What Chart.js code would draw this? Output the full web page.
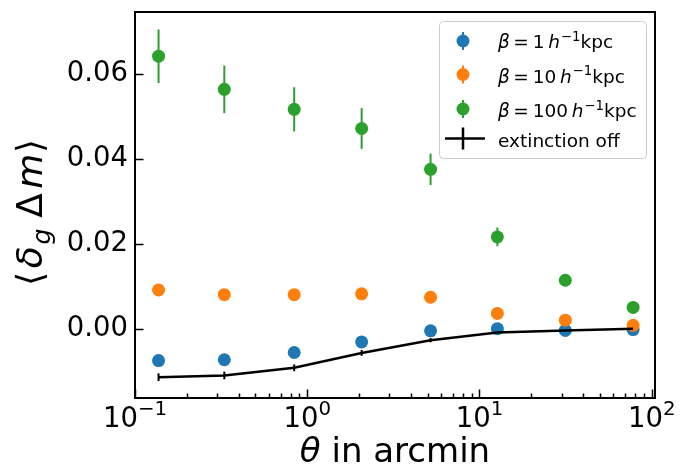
<!DOCTYPE html>
<html>
<head>
  <meta charset="UTF-8">
  <title>Delta m cross-correlation vs theta</title>
  <script src="https://cdn.jsdelivr.net/npm/chart.js"></script>
  <style>
    html, body { margin: 0; padding: 0; background: #fff; }
  </style>
</head>
<body>
  <canvas id="chart" width="680" height="468"></canvas>

  <script>
    // values
    const theta = [0.137, 0.33, 0.84, 2.07, 5.2, 12.7, 31.5, 78];

    const beta1 = [-0.0075, -0.0073, -0.0056, -0.0031, -0.0005, 0.0000, -0.0004, -0.0002];
    const beta1Err = [0.0007, 0.0007, 0.0006, 0.0006, 0.0005, 0.0005, 0.0004, 0.0004];

    const beta10 = [0.0091, 0.0080, 0.0080, 0.0082, 0.0074, 0.0036, 0.0020, 0.0008];
    const beta10Err = [0.0008, 0.0008, 0.0007, 0.0007, 0.0006, 0.0006, 0.0005, 0.0005];

    const beta100 = [0.0641, 0.0563, 0.0516, 0.0471, 0.0375, 0.0216, 0.0114, 0.0050];
    const beta100Err = [0.0063, 0.0056, 0.0052, 0.0048, 0.0037, 0.0022, 0.0011, 0.0009];

    const extOff = [-0.0114, -0.0110, -0.0092, -0.0057, -0.0027, -0.0009, -0.0004, 0.0000];
    const extOffErr = [0.0009, 0.0009, 0.0008, 0.0007, 0.0005, 0.0004, 0.0003, 0.0003];

    const betaValues = ['1', '10', '100'];
    const xTicks = [0.1, 1, 10, 100];
    const xTickExp = ['\u22121', '0', '1', '2'];
    const xMinor = [0.2, 0.3, 0.4, 0.5, 0.6, 0.7, 0.8, 0.9, 2, 3, 4, 5, 6, 7, 8, 9, 20, 30, 40, 50, 60, 70, 80, 90];
    const yTicks = [0, 0.02, 0.04, 0.06];

    const BLUE = '#1f77b4', ORANGE = '#ff7f0e', GREEN = '#2ca02c';
    const FONT = '"DejaVu Sans"';

    const pts = ys => theta.map((t, i) => ({ x: t, y: ys[i] }));

    // draw a run of text pieces: [text, italic, scale, dy(em), gapAfter(em)]
    function runWidth(ctx, runs, size) {
      let w = 0;
      for (const [t, it, sc = 1, dy = 0, gap = 0] of runs) {
        ctx.font = (it ? 'italic ' : '') + (size * sc) + 'px ' + FONT;
        w += ctx.measureText(t).width + gap * size;
      }
      return w;
    }
    function drawRuns(ctx, runs, x, y, size) {
      ctx.textBaseline = 'alphabetic';
      ctx.textAlign = 'left';
      for (const [t, it, sc = 1, dy = 0, gap = 0] of runs) {
        ctx.font = (it ? 'italic ' : '') + (size * sc) + 'px ' + FONT;
        ctx.fillText(t, x, y + dy * size);
        x += ctx.measureText(t).width + gap * size;
      }
    }

    const mplPlugin = {
      id: 'mpl',
      beforeDatasetsDraw(chart) {
        const ctx = chart.ctx, xs = chart.scales.x, ys = chart.scales.y;
        const sets = [[beta1, beta1Err, BLUE], [beta10, beta10Err, ORANGE],
                      [beta100, beta100Err, GREEN], [extOff, extOffErr, '#000']];
        ctx.save();
        for (const [vals, errs, col] of sets) {
          ctx.strokeStyle = col;
          ctx.lineWidth = 2;
          theta.forEach((t, i) => {
            const px = xs.getPixelForValue(t);
            ctx.beginPath();
            ctx.moveTo(px, ys.getPixelForValue(vals[i] + errs[i]));
            ctx.lineTo(px, ys.getPixelForValue(vals[i] - errs[i]));
            ctx.stroke();
          });
        }
        ctx.restore();
      },
      afterDraw(chart) {
        const ctx = chart.ctx, a = chart.chartArea;
        const xs = chart.scales.x, ys = chart.scales.y;
        ctx.save();
        ctx.fillStyle = '#000';
        ctx.strokeStyle = '#000';

        // inward ticks
        ctx.lineWidth = 1.5;
        ctx.beginPath();
        for (const v of xTicks) {
          const px = Math.round(xs.getPixelForValue(v)) + 0.5;
          ctx.moveTo(px, a.bottom); ctx.lineTo(px, a.bottom - 8.5);
        }
        for (const v of xMinor) {
          const px = Math.round(xs.getPixelForValue(v)) + 0.5;
          ctx.moveTo(px, a.bottom); ctx.lineTo(px, a.bottom - 4.5);
        }
        for (const v of yTicks) {
          const py = Math.round(ys.getPixelForValue(v)) + 0.5;
          ctx.moveTo(a.left, py); ctx.lineTo(a.left + 8.5, py);
        }
        ctx.stroke();

        // frame
        ctx.lineWidth = 2;
        ctx.strokeRect(a.left, a.top, a.right - a.left, a.bottom - a.top);

        // x tick labels 10^n
        const ts = 27.5;
        xTicks.forEach((v, i) => {
          const runs = [['10', false], [xTickExp[i], false, 0.72, -0.42]];
          const w = runWidth(ctx, runs, ts);
          drawRuns(ctx, runs, xs.getPixelForValue(v) - w / 2, 427, ts);
        });

        // axis titles
        const ls = 34;
        const xr = [['\u03b8', true, 1, 0, 0], [' in arcmin', false]];
        drawRuns(ctx, xr, (a.left + a.right) / 2 - runWidth(ctx, xr, ls) / 2, 462, ls);

        const ys2 = 36;
        const yr = [['\u27e8', false, 1, 0, 0.1], ['\u03b4', true, 1, 0, 0.05], ['g', true, 0.7, 0.22, 0.3],
                    ['\u0394', false, 1, 0, 0.12], ['m', true, 1, 0, 0.02], ['\u27e9', false]];
        ctx.save();
        ctx.translate(42, 212.5);
        ctx.rotate(-Math.PI / 2);
        drawRuns(ctx, yr, -runWidth(ctx, yr, ys2) / 2, 0, ys2);
        ctx.restore();

        // legend
        ctx.beginPath();
        ctx.roundRect(439.5, 21.5, 207, 137, 4);
        ctx.fillStyle = 'rgba(255,255,255,0.8)';
        ctx.fill();
        ctx.strokeStyle = '#cccccc';
        ctx.lineWidth = 1;
        ctx.stroke();

        const cols = [BLUE, ORANGE, GREEN];
        const my = [41, 74.5, 109];
        const by = [48, 82.5, 117];
        const fs = 18.5;
        cols.forEach((c, i) => {
          ctx.strokeStyle = c; ctx.fillStyle = c; ctx.lineWidth = 2;
          ctx.beginPath(); ctx.moveTo(463, my[i] - 9); ctx.lineTo(463, my[i] + 9); ctx.stroke();
          ctx.beginPath(); ctx.arc(463, my[i], 6.5, 0, Math.PI * 2); ctx.fill();
          ctx.fillStyle = '#000';
          drawRuns(ctx, [['\u03b2', true, 1, 0, 0.18], ['=', false, 1, 0, 0.22], [betaValues[i], false, 1, 0, 0.2],
                         ['h', true, 1, 0, 0.05], ['\u22121', false, 0.72, -0.38], ['kpc', false]], 498, by[i], fs);
        });
        ctx.strokeStyle = '#000'; ctx.lineWidth = 2.5;
        ctx.beginPath();
        ctx.moveTo(445, 138.5); ctx.lineTo(485, 138.5);
        ctx.moveTo(463, 127.5); ctx.lineTo(463, 149.5);
        ctx.stroke();
        ctx.fillStyle = '#000';
        drawRuns(ctx, [['extinction off', false]], 498, 146.5, fs);

        ctx.restore();
      }
    };

    const ctx = document.getElementById('chart').getContext('2d');
    new Chart(ctx, {
      type: 'scatter',
      data: {
        datasets: [
          { label: 'beta 1', data: pts(beta1), backgroundColor: BLUE, borderColor: BLUE,
            pointRadius: 6.5, pointBorderWidth: 0, order: 4 },
          { label: 'beta 10', data: pts(beta10), backgroundColor: ORANGE, borderColor: ORANGE,
            pointRadius: 6.5, pointBorderWidth: 0, order: 3 },
          { label: 'beta 100', data: pts(beta100), backgroundColor: GREEN, borderColor: GREEN,
            pointRadius: 6.5, pointBorderWidth: 0, order: 2 },
          { label: 'extinction off', type: 'line', data: pts(extOff), borderColor: '#000',
            borderWidth: 2.5, pointRadius: 0, tension: 0, fill: false, order: 1 }
        ]
      },
      options: {
        responsive: false,
        animation: false,
        devicePixelRatio: 1,
        layout: { padding: { top: 12, right: 25, left: 0, bottom: 0 } },
        plugins: { legend: { display: false }, tooltip: { enabled: false } },
        scales: {
          x: {
            type: 'logarithmic', min: 0.1, max: 104.5,
            grid: { display: false, drawTicks: false },
            border: { display: false },
            ticks: { display: false },
            afterBuildTicks: s => { s.ticks = xTicks.map(v => ({ value: v })); },
            afterFit: s => { s.height = 70; s.paddingLeft = 0; s.paddingRight = 0; }
          },
          y: {
            type: 'linear', min: -0.0163, max: 0.0745,
            grid: { display: false, drawTicks: false },
            border: { display: false },
            ticks: {
              color: '#000', padding: 7,
              font: { family: 'DejaVu Sans', size: 27.5 },
              callback: v => v.toFixed(2)
            },
            afterBuildTicks: s => { s.ticks = yTicks.map(v => ({ value: v })); },
            afterFit: s => { s.width = 135; s.paddingTop = 0; s.paddingBottom = 0; }
          }
        }
      },
      plugins: [mplPlugin]
    });
  </script>
</body>
</html>
